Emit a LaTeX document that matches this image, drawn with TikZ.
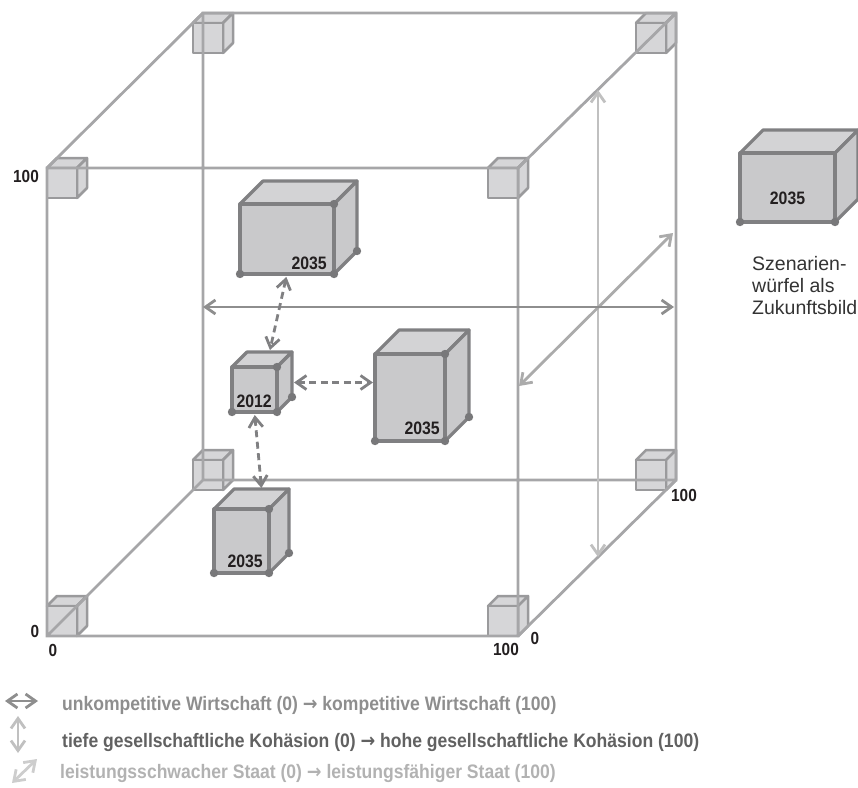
\documentclass[tikz,border=0pt]{standalone}
\usepackage{graphicx}
\usepackage{fontspec}
\setmainfont{Liberation Sans}
\newfontfamily\arrowfont{DejaVu Sans}
\usetikzlibrary{calc,positioning,arrows.meta}

\definecolor{edgegray}{HTML}{A6A6A8}
\definecolor{cornerfill}{HTML}{D6D6D8}
\definecolor{cornerline}{HTML}{9A9A9C}
\definecolor{cubefill}{HTML}{C9C9CB}
\definecolor{cubetop}{HTML}{D3D3D5}
\definecolor{cubeline}{HTML}{808082}
\definecolor{dotgray}{HTML}{78787A}
\definecolor{wirtgray}{HTML}{8E8E8E}
\definecolor{kohgray}{HTML}{C0C0C0}
\definecolor{staatgray}{HTML}{ABABAB}
\definecolor{labelblack}{HTML}{231F20}

\newcommand{\narrow}[1]{\scalebox{0.88}[1]{#1}}

\tikzset{
  bigedge/.style={draw=edgegray,line width=2.8pt},
  cornercube/.style={fill=cornerfill,draw=cornerline,line width=2.5pt,line join=round},
  scenface/.style={fill=cubefill,draw=cubeline,line width=3.2pt,line join=round},
  scentop/.style={fill=cubetop,draw=cubeline,line width=3.2pt,line join=round},
  axisarrow/.style={line width=2.8pt,{Straight Barb[length=10pt,width=14pt]}-{Straight Barb[length=10pt,width=14pt]}},
  shiftarrow/.style={draw=cubeline,line width=2.8pt,dash pattern=on 7pt off 4.5pt,
    {Straight Barb[length=10pt,width=14pt]}-{Straight Barb[length=10pt,width=14pt]}},
  dot/.style={fill=dotgray},
  axislabel/.style={font=\fontsize{17.5}{20}\selectfont\bfseries,text=labelblack,inner sep=0pt},
  yearlabel/.style={font=\fontsize{18}{20}\selectfont\bfseries,text=labelblack,inner sep=0pt},
  legendtext/.style={font=\fontsize{19.5}{22}\selectfont\bfseries,inner sep=0pt,anchor=base west},
}

% scenario cube: name, x, y of front top-left, width, height, depth
\newcommand{\scencube}[6]{%
  \filldraw[scentop] (#2,#3) -- ++(#6,-#6) -- ++(#4,0) -- ++(-#6,#6) -- cycle;
  \filldraw[scenface] (#2+#4,#3) -- ++(#6,-#6) -- ++(0,#5) -- ++(-#6,#6) -- cycle;
  \node[scenface,minimum width=#4pt,minimum height=#5pt,inner sep=0pt,outer sep=0pt] (#1) at (#2+#4/2,#3+#5/2) {};
  \coordinate (#1-back) at (#2+#4/2+#6,#3-#6);
  \coordinate (#1-rear) at (#2+#4+#6,#3+#5-#6);
}

\begin{document}
\begin{tikzpicture}[x=1pt,y=-1pt]
  \useasboundingbox (0,0) rectangle (858,787);

  % small cubes in the corners
  \foreach \x/\y in {47/168,488/168,47/606,488/606,193/23,636/23,193/460,636/460}{
    \filldraw[cornercube] (\x,\y) -- ++(10,-10) -- ++(30,0) -- ++(-10,10) -- cycle;
    \filldraw[cornercube] (\x+30,\y) -- ++(10,-10) -- ++(0,30) -- ++(-10,10) -- cycle;
    \filldraw[cornercube] (\x,\y) rectangle ++(30,30);
  }

  % big cube
  \coordinate (F1) at (47,168);
  \coordinate (F2) at (518,168);
  \coordinate (F3) at (518,636);
  \coordinate (F4) at (47,636);
  \coordinate (B1) at (203,13);
  \coordinate (B2) at (676,13);
  \coordinate (B3) at (676,480);
  \coordinate (B4) at (203,480);
  \draw[bigedge] (F1)--(F2)--(F3)--(F4)--cycle (B1)--(B2)--(B3)--(B4)--cycle
    (F1)--(B1) (F2)--(B2) (F3)--(B3) (F4)--(B4);

  % axes
  \coordinate (wl) at (203,307);
  \coordinate (wr) at (674,307);
  \coordinate (kt) at (598,90);
  \coordinate (kb) at (598,557);
  \coordinate (sl) at (519,386);
  \coordinate (su) at (673,233);
  \draw[axisarrow,kohgray] (kt)--(kb);
  \draw[axisarrow,staatgray] (sl)--(su);
  \draw[axisarrow,wirtgray] (wl)--(wr);

  % scenarios
  \scencube{up}{240}{204}{94}{70}{23}
  \scencube{now}{232}{367}{45}{45}{15}
  \scencube{right}{375}{354}{70}{87}{24}
  \scencube{low}{214}{509}{55}{64}{20}
  \scencube{side}{740}{153}{95}{69}{23}
  \foreach \c in {up,now,right,low}{
    \fill[dot] (\c.north east) circle (4.2pt) (\c.south east) circle (4.2pt)
      (\c.south west) circle (4.2pt) (\c-rear) circle (4.2pt);
  }
  \fill[dot] (side.south west) circle (4.2pt) (side.south east) circle (4.2pt);

  \node[yearlabel,anchor=base east] (yup) at ($(up.south east)+(-7,-5)$) {\narrow{2035}};
  \node[yearlabel,anchor=base east] (ynow) at ($(now.south east)+(-5,-5)$) {\narrow{2012}};
  \node[yearlabel,anchor=base east] (yright) at ($(right.south east)+(-5,-7)$) {\narrow{2035}};
  \node[yearlabel,anchor=base east] (ylow) at ($(low.south east)+(-6,-6)$) {\narrow{2035}};
  \node[yearlabel,anchor=base] (yside) at ($(side.south)+(0,-18)$) {\narrow{2035}};

  \coordinate (nowr) at ($(now.east)+(15,-7)$);
  \draw[shiftarrow,shorten <=3pt,shorten >=2pt] (up.south) -- (now-back);
  \draw[shiftarrow,shorten <=2pt,shorten >=2pt] (nowr) -- (right.west |- nowr);
  \draw[shiftarrow,shorten <=3pt,shorten >=1pt] (now.south) -- (low-back);

  % scale values
  \node[axislabel] (v100a) at (26,176) {\narrow{100}};
  \node[axislabel] (v0a) at (35,631) {\narrow{0}};
  \node[axislabel] (v0b) at (53,650) {\narrow{0}};
  \node[axislabel] (v100b) at (506,649) {\narrow{100}};
  \node[axislabel] (v0c) at (535,638) {\narrow{0}};
  \node[axislabel] (v100c) at (684,495) {\narrow{100}};

  \node[anchor=north west,align=left,inner sep=0pt,text=black!80,
    font=\fontsize{19.5}{22}\selectfont] (szen) at (752,256) {Szenarien-\\würfel als\\Zukunftsbild};

  % legend
  \coordinate (lw1) at (5,701);
  \coordinate (lw2) at (38,701);
  \coordinate (lk1) at (18,716);
  \coordinate (lk2) at (18,753);
  \coordinate (ls1) at (12,783);
  \coordinate (ls2) at (37,759);
  \draw[axisarrow,wirtgray] (lw1)--(lw2);
  \draw[axisarrow,kohgray] (lk1)--(lk2);
  \draw[axisarrow,staatgray!60] (ls1)--(ls2);
  \node[legendtext,text=wirtgray] (leg1) at (62,710)
    {\scalebox{0.9}[1]{unkompetitive Wirtschaft (0) {\arrowfont\bfseries →} kompetitive Wirtschaft (100)}};
  \node[legendtext,text=black!62] (leg2) at (62,747)
    {\scalebox{0.9}[1]{tiefe gesellschaftliche Kohäsion (0) {\arrowfont\bfseries →} hohe gesellschaftliche Kohäsion (100)}};
  \node[legendtext,text=black!30] (leg3) at (60,778)
    {\scalebox{0.9}[1]{leistungsschwacher Staat (0) {\arrowfont\bfseries →} leistungsfähiger Staat (100)}};
\end{tikzpicture}
\end{document}
